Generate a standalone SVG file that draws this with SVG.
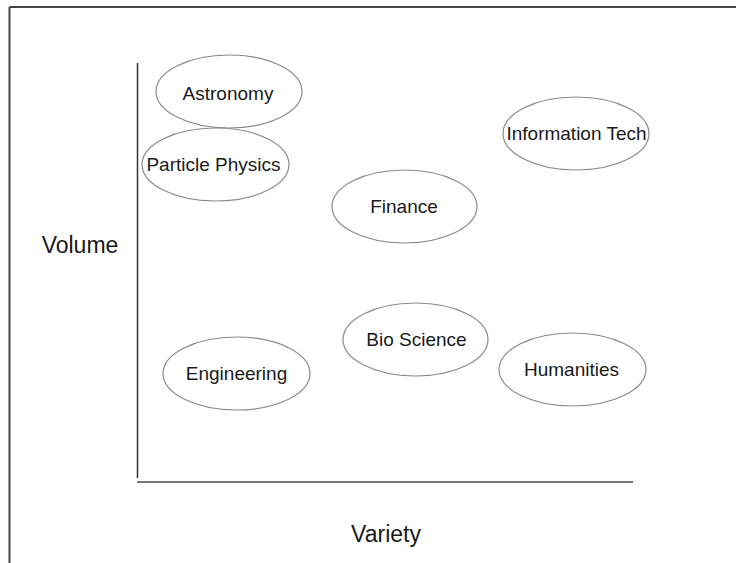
<svg xmlns="http://www.w3.org/2000/svg" width="736" height="563" viewBox="0 0 736 563">
<style>
.node ellipse{fill:#fff;stroke:#8a8a8a;stroke-width:1.2}
.node text{font-family:"Liberation Sans",Arial,sans-serif;font-size:19px;fill:#1a1a1a;text-anchor:middle}
.axislabel{font-family:"Liberation Sans",Arial,sans-serif;font-size:23px;fill:#1a1a1a;text-anchor:middle}
</style>
<rect x="0" y="0" width="736" height="563" fill="#fff"/>
<g id="frame" fill="none">
<line x1="9.5" y1="7" x2="736" y2="7" stroke="#444" stroke-width="2"/>
<line x1="9.5" y1="7" x2="9.5" y2="563" stroke="#444" stroke-width="2"/>
</g>
<g id="connectors">
<line x1="137.5" y1="63" x2="137.5" y2="478" stroke="#333" stroke-width="1.5"/>
<line x1="137" y1="482" x2="633" y2="482" stroke="#777" stroke-width="2"/>
</g>
<g id="astronomy" class="node"><ellipse cx="229" cy="91.5" rx="73" ry="36.5"/><text x="228" y="100">Astronomy</text></g>
<g id="particle-physics" class="node"><ellipse cx="215.5" cy="164.5" rx="73.5" ry="36.5"/><text x="213.5" y="170.5">Particle Physics</text></g>
<g id="information-tech" class="node"><ellipse cx="576" cy="133.5" rx="73" ry="36.5"/><text x="576.5" y="140">Information Tech</text></g>
<g id="finance" class="node"><ellipse cx="404.5" cy="206.5" rx="72.5" ry="36.5"/><text x="404" y="213">Finance</text></g>
<g id="bio-science" class="node"><ellipse cx="415.5" cy="339.5" rx="72.5" ry="36.5"/><text x="416.5" y="345.5">Bio Science</text></g>
<g id="humanities" class="node"><ellipse cx="572.5" cy="369.5" rx="73.5" ry="36.5"/><text x="571.5" y="376">Humanities</text></g>
<g id="engineering" class="node"><ellipse cx="236.5" cy="373.5" rx="73.5" ry="36.5"/><text x="236.5" y="380">Engineering</text></g>
<text id="volume" class="axislabel" x="80" y="253">Volume</text>
<text id="variety" class="axislabel" x="386" y="542">Variety</text>
</svg>
